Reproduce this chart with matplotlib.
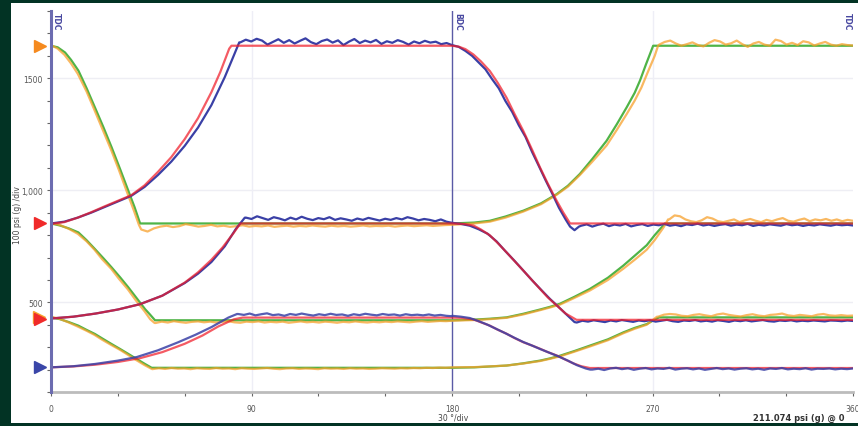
import numpy as np
import matplotlib
matplotlib.use("Agg")
import matplotlib.pyplot as plt
from matplotlib.patches import Rectangle

# ---------------- data (crank angle deg, pressure psi g) ----------------
x_major = [0, 90, 180, 270, 360]
x_major_labels = ["0", "90", "180", "270", "360"]
y_major = [500, 1000, 1500]
y_major_labels = ["500", "1,000", "1500"]
marker_levels = [1645, 852, 426, 211]
marker_colors = ["#f58a1f", "#f02a2a", "#f02a2a", "#3a46a8"]

# group 1 (850 <-> 1645)
RED1_X = [0, 6, 12, 18, 24, 30, 36, 42, 48, 54, 60, 66, 72, 76, 80, 81, 180, 183, 186, 189.6, 193, 197, 200.5,
          204.5, 208, 212, 216, 219.5, 223, 227, 230, 233, 360]
RED1_Y = [850, 858, 878, 902, 928, 953, 978, 1022, 1082, 1148, 1228, 1322, 1438, 1528, 1632, 1645, 1645, 1641,
          1630, 1606, 1575, 1532, 1480, 1413, 1342, 1265, 1180, 1102, 1030, 953, 900, 852, 852]
BLUE1_RISE_X = [0, 6, 12, 18, 24, 30, 36, 42, 48, 54, 60, 66, 72, 78, 82, 84.5]
BLUE1_RISE_Y = [852, 860, 878, 900, 925, 950, 975, 1015, 1068, 1128, 1198, 1280, 1380, 1505, 1600, 1660]
BLUE1_TOP = [1660, 1672, 1664, 1676, 1668, 1650, 1662, 1674, 1658, 1670, 1655, 1667, 1678, 1661, 1652, 1666,
             1673, 1659, 1669, 1648, 1663, 1675, 1657, 1668, 1660, 1671, 1653, 1665, 1658, 1670, 1662, 1650,
             1664, 1656, 1667, 1659, 1663, 1652, 1657, 1648]
BLUE1_FALL_X = [180, 183, 186, 189, 192, 195, 198, 201, 204, 207, 210, 213, 216, 219, 222, 225, 228, 231, 233,
                235, 237]
BLUE1_FALL_Y = [1648, 1640, 1622, 1600, 1570, 1540, 1496, 1455, 1398, 1350, 1290, 1238, 1170, 1108, 1045, 985,
                922, 870, 838, 822, 838]
BLUE1_LOW = [842, 848, 838, 846, 851, 840, 847, 843, 850, 839, 845, 849, 841, 847, 844, 850, 842, 846, 840, 848,
             845, 851, 843, 847, 841, 846, 849, 842, 847, 844, 850, 841, 846, 843, 848, 845, 842, 849, 844, 847,
             841, 846, 843, 848, 845, 842, 847, 844, 846, 843]
GREEN1_X = [0, 3, 6.3, 9, 12.3, 16, 19.7, 23.5, 27.2, 31, 34.7, 37.5, 40, 180, 190, 197, 204, 212, 220, 227,
            232, 237.4, 243, 249.4, 254, 258.4, 262, 264.4, 267, 270.3, 360]
GREEN1_Y = [1645, 1638, 1615, 1582, 1534, 1455, 1370, 1282, 1192, 1095, 998, 925, 852, 852, 856, 864, 883, 909,
            942, 983, 1020, 1073, 1140, 1221, 1295, 1370, 1435, 1490, 1560, 1645, 1645]
ORANGE1_FALL_X = [0, 3, 6, 9, 12, 16, 19, 23, 27, 30.5, 34, 37, 39.5]
ORANGE1_FALL_Y = [1648, 1632, 1605, 1566, 1520, 1440, 1370, 1275, 1180, 1090, 995, 915, 845]
ORANGE1_LOW = [825, 816, 830, 838, 842, 836, 840, 849, 844, 838, 841, 846, 839, 842, 837, 840, 844, 838, 841,
               839, 843, 837, 840, 842, 838, 841, 839, 843, 840, 838, 842, 839, 841, 838, 840, 843, 839, 841,
               840, 842, 838, 841, 843, 840, 842, 844, 841, 843, 845, 846]
ORANGE1_RISE_X = [180, 190, 197, 204, 212, 220, 227, 232, 237.4, 243, 249.4, 254, 258.4, 262, 265, 268, 271,
                  272.5]
ORANGE1_RISE_Y = [846, 852, 860, 878, 905, 938, 980, 1016, 1068, 1128, 1200, 1270, 1340, 1400, 1458, 1530,
                  1600, 1645]
ORANGE1_TOP = [1650, 1662, 1668, 1655, 1645, 1652, 1660, 1648, 1642, 1658, 1670, 1664, 1650, 1656, 1668, 1652,
               1640, 1655, 1662, 1650, 1645, 1672, 1666, 1650, 1658, 1648, 1665, 1660, 1646, 1655, 1662, 1650,
               1645, 1652, 1648, 1646]

# group 2 (425 <-> 850)
RED2_X = [0, 10, 20, 30, 40, 50, 60, 66, 72, 77, 82, 85, 180, 185, 189.6, 193, 197, 200.5, 204.5, 208, 212,
          216, 219.5, 223, 227, 231, 235.9, 360]
RED2_Y = [428, 436, 450, 468, 492, 530, 588, 634, 690, 745, 810, 852, 852, 850, 843, 825, 799, 765, 723, 685,
          642, 598, 560, 522, 486, 450, 422, 422]
BLUE2_RISE_X = [0, 10, 20, 30, 40, 50, 60, 66, 72, 78, 83, 87]
BLUE2_RISE_Y = [428, 436, 450, 468, 492, 530, 586, 628, 680, 750, 828, 878]
BLUE2_TOP = [878, 872, 884, 876, 868, 880, 874, 866, 878, 870, 882, 873, 867, 876, 871, 880, 868, 875, 870,
             864, 874, 868, 877, 871, 865, 873, 868, 876, 870, 880, 874, 866, 872, 868, 862, 870, 860, 855]
BLUE2_FALL_X = [180, 184, 188, 192, 196, 200, 204, 208, 212, 216, 220, 224, 228, 232, 235]
BLUE2_FALL_Y = [855, 850, 842, 826, 806, 772, 728, 686, 642, 598, 556, 515, 478, 440, 412]
BLUE2_LOW = [410, 418, 414, 420, 416, 412, 419, 415, 421, 417, 413, 419, 416, 420, 414, 418, 422, 416, 413,
             419, 417, 421, 415, 418, 414, 420, 417, 413, 419, 416, 420, 415, 418, 421, 416, 414, 419, 417,
             420, 415, 418, 416, 419, 417, 415, 419, 418, 416, 419, 417]
GREEN2_X = [0, 4, 8, 12.3, 16, 19.7, 23.5, 27.2, 31, 34.7, 38.5, 42.2, 44.5, 46.7, 180, 190, 197, 204.5, 212,
            219.5, 224, 228.5, 235, 241.9, 250, 256.9, 262, 267.4, 271, 275.6, 360]
GREEN2_Y = [852, 843, 830, 812, 777, 738, 697, 656, 612, 567, 518, 470, 445, 420, 420, 423, 427, 433, 449, 468,
            480, 494, 525, 560, 610, 664, 708, 755, 800, 852, 852]
ORANGE2_FALL_X = [0, 4, 8, 12, 16, 19.5, 23, 27, 30.5, 34.5, 38, 42, 44.5, 46.5]
ORANGE2_FALL_Y = [855, 845, 828, 806, 772, 735, 692, 650, 605, 558, 510, 460, 425, 408]
ORANGE2_LOW = [408, 414, 410, 416, 412, 409, 413, 415, 411, 414, 410, 413, 416, 411, 409, 414, 412, 415, 410,
               413, 411, 414, 409, 412, 415, 411, 413, 410, 414, 412, 409, 413, 411, 415, 412, 410, 413, 411,
               414, 412, 415, 413, 411, 414, 416, 413, 415, 417, 416, 418]
ORANGE2_RISE_X = [180, 190, 197, 204.5, 212, 219.5, 224, 228.5, 235, 241.9, 250, 256.9, 262, 267.4, 271, 275,
                  277]
ORANGE2_RISE_Y = [418, 421, 425, 431, 446, 465, 477, 490, 520, 553, 600, 650, 690, 735, 778, 835, 870]
ORANGE2_TOP = [870, 888, 884, 870, 862, 858, 866, 880, 874, 862, 858, 864, 870, 858, 866, 872, 864, 858, 868,
               862, 870, 876, 864, 860, 868, 874, 862, 870, 866, 872, 864, 870, 862, 868, 864]

# group 3 (210 <-> 430)
RED3_X = [0, 10, 20, 30, 40, 50, 60, 68, 75, 82, 86, 180, 184, 189.6, 193, 197, 200.5, 204.5, 208, 212, 216,
          219.5, 223, 227, 231, 234.4, 238, 241.9, 360]
RED3_Y = [210, 214, 222, 234, 251, 278, 315, 352, 392, 424, 432, 432, 431, 424, 411, 396, 378, 360, 341, 322,
          307, 293, 278, 263, 244, 228, 215, 207, 207]
BLUE3_RISE_X = [0, 10, 19.7, 30, 38.5, 48, 57.1, 65, 72.1, 79.6, 83.5]
BLUE3_RISE_Y = [210, 215, 225, 240, 256, 286, 322, 356, 390, 432, 448]
BLUE3_TOP = [448, 444, 450, 442, 447, 451, 443, 446, 440, 448, 444, 450, 445, 441, 447, 443, 449, 444, 446,
             440, 447, 443, 449, 445, 442, 448, 444, 446, 441, 447, 443, 445, 442, 446, 441, 444, 440, 438]
BLUE3_FALL_X = [180, 184, 188, 192, 196, 200, 204, 208, 212, 216, 220, 224, 228, 232, 236, 240, 242]
BLUE3_FALL_Y = [440, 436, 430, 416, 400, 381, 362, 342, 323, 307, 290, 274, 258, 240, 220, 205, 200]
BLUE3_LOW = [200, 204, 198, 205, 208, 202, 206, 199, 204, 207, 201, 205, 203, 208, 200, 204, 206, 201, 205,
             199, 203, 207, 202, 205, 200, 204, 206, 201, 204, 199, 205, 203, 207, 201, 204, 202, 206, 200,
             204, 203, 205, 201, 204, 202, 205]
GREEN3_X = [0, 4, 8, 12.3, 16, 19.7, 23.5, 27.2, 31, 34.7, 38.5, 42.2, 45.2, 180, 190, 204.5, 212, 219.5, 224,
            228.5, 235, 241.9, 250, 256.9, 262, 267.4, 271.9, 273, 360]
GREEN3_Y = [433, 425, 412, 396, 377, 359, 336, 314, 292, 270, 247, 225, 208, 208, 210, 218, 228, 240, 250, 262,
            283, 307, 335, 366, 386, 403, 428, 433, 433]
ORANGE3_FALL_X = [0, 4, 8, 12, 16, 19.5, 23, 27, 31, 34.5, 38, 42, 45]
ORANGE3_FALL_Y = [436, 426, 410, 392, 373, 355, 333, 310, 288, 266, 244, 220, 204]
ORANGE3_LOW = [202, 206, 203, 207, 204, 205, 202, 206, 204, 203, 207, 204, 205, 202, 206, 204, 203, 205, 207,
               204, 202, 205, 206, 203, 205, 204, 202, 206, 204, 205, 203, 206, 204, 205, 203, 204, 206, 205,
               204, 206, 205, 207, 206, 208, 207, 209, 208, 210]
ORANGE3_RISE_X = [180, 190, 204.5, 212, 219.5, 224, 228.5, 235, 241.9, 250, 256.9, 262, 267.4, 272]
ORANGE3_RISE_Y = [210, 211, 218, 227, 238, 248, 259, 280, 303, 331, 362, 382, 400, 436]
ORANGE3_TOP = [436, 445, 448, 446, 440, 438, 444, 447, 442, 438, 446, 450, 444, 440, 437, 443, 447, 441, 438,
               444, 446, 450, 442, 439, 444, 441, 438, 445, 448, 442, 440, 443, 440, 441]


def span(a, b, vals):
    return list(np.linspace(a, b, len(vals))), list(vals)


def join(*parts):
    xs, ys = [], []
    for px, py in parts:
        xs += list(px)
        ys += list(py)
    return xs, ys


traces_gb = []  # green smooth trace, orange measured trace
traces_gb.append((GREEN1_X, GREEN1_Y,
                  join((ORANGE1_FALL_X, ORANGE1_FALL_Y), span(40.5, 180, ORANGE1_LOW),
                       (ORANGE1_RISE_X, ORANGE1_RISE_Y), span(273, 360, ORANGE1_TOP))))
traces_gb.append((GREEN2_X, GREEN2_Y,
                  join((ORANGE2_FALL_X, ORANGE2_FALL_Y), span(47, 180, ORANGE2_LOW),
                       (ORANGE2_RISE_X, ORANGE2_RISE_Y), span(277.5, 360, ORANGE2_TOP))))
traces_gb.append((GREEN3_X, GREEN3_Y,
                  join((ORANGE3_FALL_X, ORANGE3_FALL_Y), span(45.5, 180, ORANGE3_LOW),
                       (ORANGE3_RISE_X, ORANGE3_RISE_Y), span(272.5, 360, ORANGE3_TOP))))

traces_rb = []  # red smooth trace, blue measured trace, blue-on-top flag
traces_rb.append((RED1_X, RED1_Y,
                  join((BLUE1_RISE_X, BLUE1_RISE_Y), span(85, 180, BLUE1_TOP),
                       (BLUE1_FALL_X, BLUE1_FALL_Y), span(238, 360, BLUE1_LOW)), False))
traces_rb.append((RED2_X, RED2_Y,
                  join((BLUE2_RISE_X, BLUE2_RISE_Y), span(87.5, 180, BLUE2_TOP),
                       (BLUE2_FALL_X, BLUE2_FALL_Y), span(236, 360, BLUE2_LOW)), False))
traces_rb.append((RED3_X, RED3_Y,
                  join((BLUE3_RISE_X, BLUE3_RISE_Y), span(84, 180, BLUE3_TOP),
                       (BLUE3_FALL_X, BLUE3_FALL_Y), span(243, 360, BLUE3_LOW)), True))

# ---------------- figure ----------------
W, H = 858, 427
fig = plt.figure(figsize=(W / 100, H / 100), dpi=100)
fig.patch.set_facecolor("#023324")
fig.add_artist(Rectangle((11 / W, 3 / H), 1 - 11 / W, (H - 7) / H, transform=fig.transFigure,
                         facecolor="white", edgecolor="none", zorder=0))

ax = fig.add_axes([51 / W, (H - 393) / H, (853 - 51) / W, (393 - 12) / H])
ax.set_facecolor("none")
ax.set_xlim(0, 360)
ax.set_ylim(100, 1800)

GREEN = "#4fb447"
ORANGE = "#f7a12c"
RED = "#f01c28"
BLUE = "#3a40a6"

for y in y_major:
    ax.axhline(y, color="#eeeef4", lw=1.0, zorder=1)
for x in [90, 270]:
    ax.axvline(x, color="#eeeef6", lw=1.0, zorder=1)
ax.axvline(180, color="#5a5aa6", lw=1.0, zorder=2)

for gx, gy, (ox, oy) in traces_gb:
    ax.plot(gx, gy, color=GREEN, lw=1.6, zorder=3, solid_capstyle="round")
    ax.plot(ox, oy, color=ORANGE, lw=1.6, alpha=0.75, zorder=4, solid_joinstyle="round")
for rx, ry, (bx, by), blue_top in traces_rb:
    if blue_top:
        ax.plot(rx, ry, color=RED, lw=1.6, alpha=0.72, zorder=5)
        ax.plot(bx, by, color=BLUE, lw=1.6, alpha=0.85, zorder=6, solid_joinstyle="round")
    else:
        ax.plot(bx, by, color=BLUE, lw=1.6, zorder=5, solid_joinstyle="round")
        ax.plot(rx, ry, color=RED, lw=1.6, alpha=0.72, zorder=6)

# level markers left of the axis
for lv, c in zip(marker_levels, marker_colors):
    if lv == 426:
        ax.plot([-5.3], [lv + 8], marker=">", color="#f7a12c", markersize=8, clip_on=False, zorder=7)
    ax.plot([-5], [lv], marker=">", color=c, markersize=8, clip_on=False, zorder=8)

# spines and ticks
for s in ["top", "right"]:
    ax.spines[s].set_visible(False)
ax.spines["left"].set_color("#6c6cb0")
ax.spines["left"].set_linewidth(2.2)
ax.spines["left"].set_zorder(9)
ax.spines["bottom"].set_color("#bcbcbc")
ax.spines["bottom"].set_linewidth(2.0)

ax.set_xticks(x_major)
ax.set_xticklabels(x_major_labels)
ax.set_xticks(np.arange(0, 361, 30), minor=True)
ax.set_yticks(y_major)
ax.set_yticklabels(y_major_labels)
ax.set_yticks(np.arange(100, 1801, 100), minor=True)
ax.tick_params(axis="both", which="major", labelsize=5.5, labelcolor="#555555", color="#666666",
               length=3, width=0.8)
ax.tick_params(axis="x", which="major", pad=6)
ax.tick_params(axis="y", which="major", pad=3)
ax.tick_params(axis="both", which="minor", color="#666666", length=3, width=0.8)

# texts
fig.text(18 / W, 1 - 215 / H, "100 psi (g) /div", rotation=90, ha="center", va="center",
         fontsize=5.5, color="#444444")
fig.text(453 / W, 1 - 418.5 / H, "30 °/div", ha="center", va="center", fontsize=5.5, color="#444444")
fig.text(753 / W, 1 - 418.5 / H, "211.074 psi (g) @ 0", ha="left", va="center", fontsize=6,
         fontweight="bold", color="#333333")
for xv, lab, side in [(0, "TDC", "left"), (180, "BDC", "left"), (360, "TDC", "right")]:
    off = 2.5 if side == "left" else -2.5
    ax.text(xv + off, 1795, lab, rotation=270, ha="center", va="top", fontsize=5.5,
            fontweight="bold", color="#4848a0", clip_on=False)

fig.savefig("out.png", dpi=100, facecolor=fig.get_facecolor())
